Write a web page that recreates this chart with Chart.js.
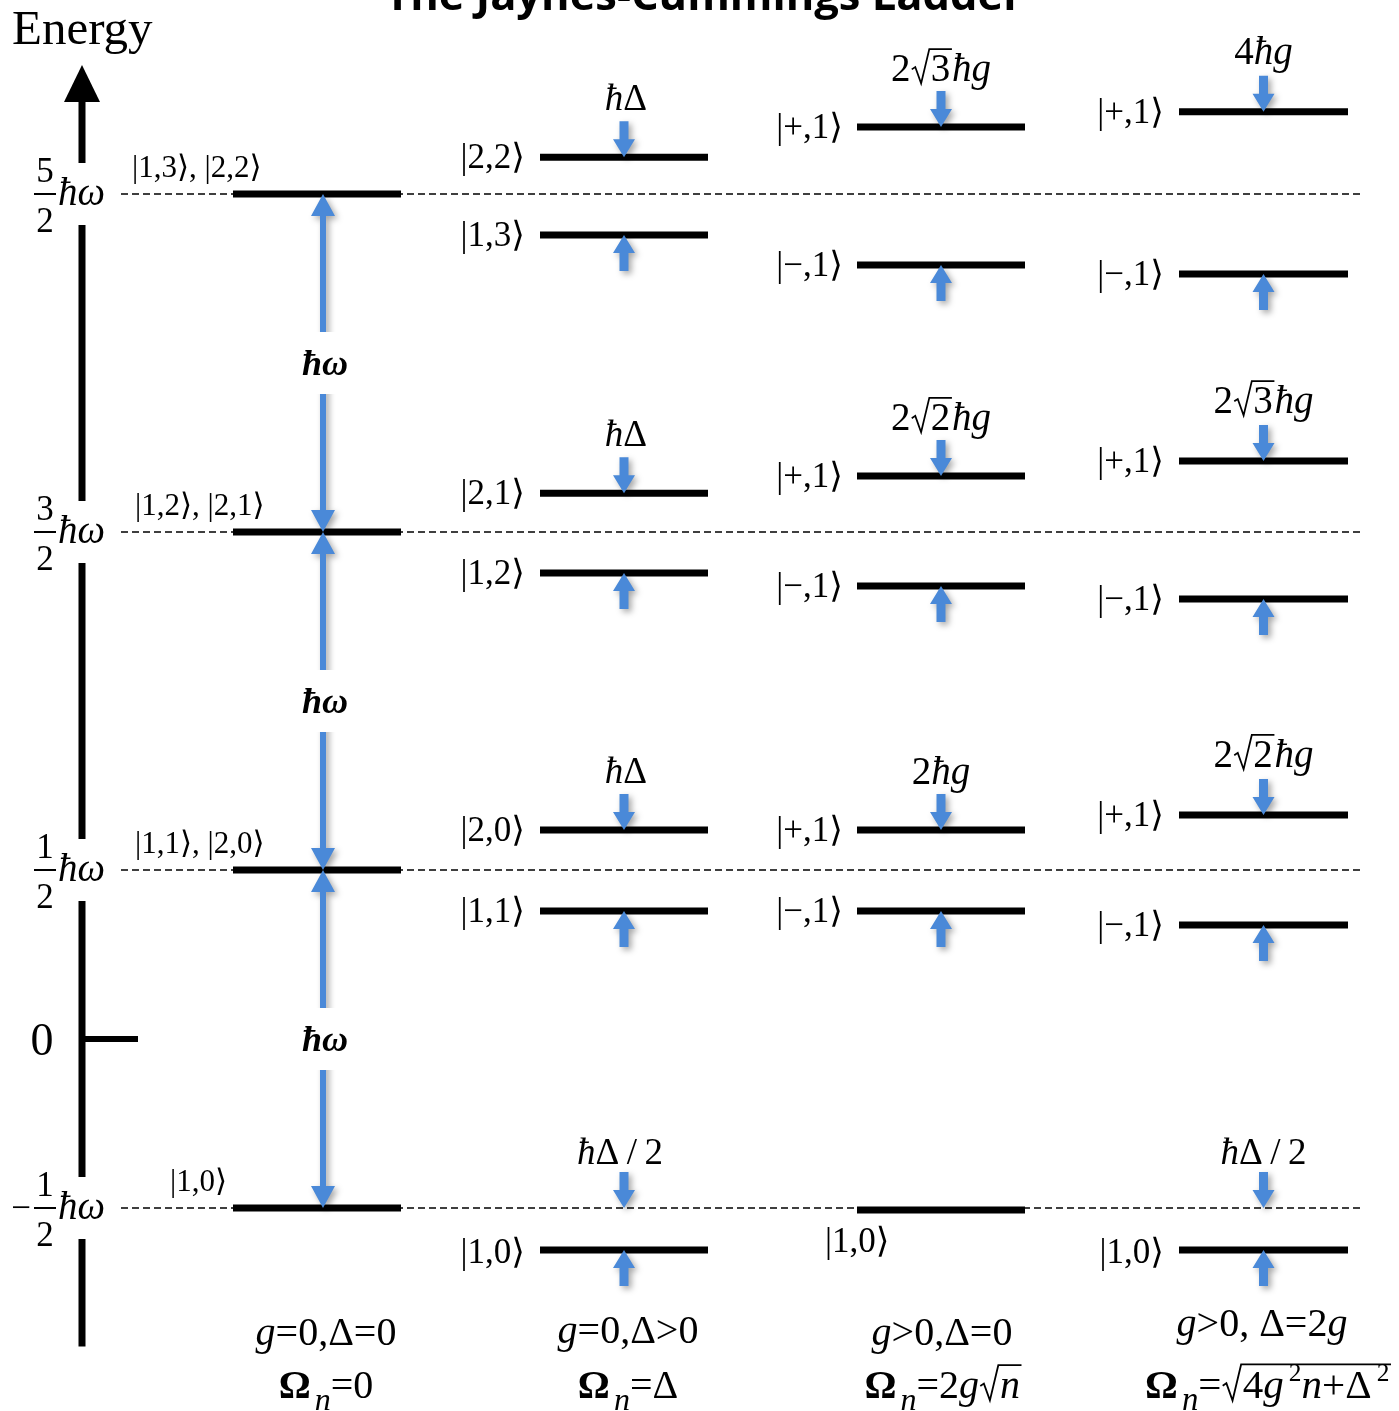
<!DOCTYPE html>
<html>
<head>
<meta charset="utf-8">
<script src="https://cdn.jsdelivr.net/npm/chart.js@4.4.1/dist/chart.umd.min.js"></script>
<style>
  html, body { margin: 0; padding: 0; background: #fff; }
  canvas { display: block; }
</style>
</head>
<body>
<canvas id="ladder" width="1399" height="1411"></canvas>
<script>
// Energias em unidades de ħω
const bareEnergies = [2.5, 1.5, 0.5, -0.5];
const tickNumerators = ['5', '3', '1', '1'];
const tickSigns = ['', '', '', '−'];
const bareStates = ['|1,3⟩, |2,2⟩', '|1,2⟩, |2,1⟩', '|1,1⟩, |2,0⟩', '|1,0⟩'];

// g = 0, Δ > 0
const detUpper = [2.609, 1.615, 0.618];
const detLower = [2.379, 1.379, 0.379];
const detGround = -0.624;
const detUpperStates = ['|2,2⟩', '|2,1⟩', '|2,0⟩'];
const detLowerStates = ['|1,3⟩', '|1,2⟩', '|1,1⟩'];

// g > 0, Δ = 0
const resUpper = [2.698, 1.666, 0.618];
const resLower = [2.290, 1.340, 0.379];
const resGround = -0.506;

// g > 0, Δ = 2g
const mixUpper = [2.743, 1.710, 0.663];
const mixLower = [2.263, 1.302, 0.337];
const mixGround = -0.624;

const plusState = '|+,1⟩';
const minusState = '|−,1⟩';
const groundState = '|1,0⟩';

// pedaços de texto "rico" (itálico, raiz, índices)
const HB = { t: 'ħ', i: true };
const G = { t: 'g', i: true };
const detSplit = [[HB, { t: 'Δ' }], [HB, { t: 'Δ' }], [HB, { t: 'Δ' }]];
const resSplit = [
  [{ t: '2' }, { rad: [{ t: '3' }] }, HB, G],
  [{ t: '2' }, { rad: [{ t: '2' }] }, HB, G],
  [{ t: '2' }, HB, G]
];
const mixSplit = [
  [{ t: '4' }, HB, G],
  [{ t: '2' }, { rad: [{ t: '3' }] }, HB, G],
  [{ t: '2' }, { rad: [{ t: '2' }] }, HB, G]
];
const halfDelta = [HB, { t: 'Δ' }, { t: '\u2009/\u2009' }, { t: '2' }];

const OM = [{ t: 'Ω', b: true }, { t: ' ', s: 0.4 }, { t: 'n', i: true, s: 0.8, dy: 0.3 }];
const conditionLabels = [
  [G, { t: '=0,Δ=0' }],
  [G, { t: '=0,Δ>0' }],
  [G, { t: '>0,Δ=0' }],
  [G, { t: '>0, Δ=2' }, G]
];
const rabiLabels = [
  [...OM, { t: '=0' }],
  [...OM, { t: '=Δ' }],
  [...OM, { t: '=2' }, G, { rad: [{ t: 'n', i: true }] }],
  [...OM, { t: '=' }, { rad: [{ t: '4' }, G, { t: '\u20092', s: 0.62, dy: -0.42 }, { t: 'n', i: true }, { t: '+Δ' }, { t: '\u20092', s: 0.62, dy: -0.42 }] }]
];

// Layout (pixels do eixo x e alturas do eixo vertical)
const colSpans = [[233, 401], [540, 708], [857, 1025], [1179, 1348]];
const refSpan = [121, 1360];
const axisX = 82;
const axisBottom = -0.91;
const axisTop = 2.882;
const bigArrowX = 323;
const pxPerUnit = 338;
const zeroPx = 1039;
const H_CANVAS = 1411;

const SERIF = '"Liberation Serif", "Times New Roman", "DejaVu Serif", serif';
const BLUE = '#4a89d8';

// monta segmentos horizontais a partir das energias
const segments = (span, energies) => {
  const pts = [];
  energies.forEach(e => {
    pts.push({ x: span[0], y: e }, { x: span[1], y: e }, { x: span[1], y: null });
  });
  return pts;
};

const levelPoints = [
  ...segments(colSpans[0], bareEnergies),
  ...segments(colSpans[1], [...detUpper, ...detLower, detGround]),
  ...segments(colSpans[2], [...resUpper, ...resLower, resGround]),
  ...segments(colSpans[3], [...mixUpper, ...mixLower, mixGround])
];

// ---- texto rico ----
const segFont = (s, size) =>
  (s.i ? 'italic ' : '') + (s.b ? 'bold ' : '') + (size * (s.s || 1)) + 'px ' + SERIF;

function measureSegs(ctx, segs, size) {
  let w = 0;
  segs.forEach(s => {
    if (s.rad) w += size * 0.52 + measureSegs(ctx, s.rad, size) + size * 0.04;
    else { ctx.font = segFont(s, size); w += ctx.measureText(s.t).width; }
  });
  return w;
}

function drawSegs(ctx, segs, x, y, size) {
  segs.forEach(s => {
    if (s.rad) {
      const inner = measureSegs(ctx, s.rad, size);
      const rw = size * 0.52;
      ctx.beginPath();
      ctx.moveTo(x + 0.03 * size, y - 0.3 * size);
      ctx.lineTo(x + 0.12 * size, y - 0.36 * size);
      ctx.lineTo(x + 0.27 * size, y + 0.06 * size);
      ctx.lineTo(x + 0.48 * size, y - 0.82 * size);
      ctx.lineTo(x + rw + inner + 0.04 * size, y - 0.82 * size);
      ctx.lineWidth = Math.max(1.5, size * 0.045);
      ctx.stroke();
      x = drawSegs(ctx, s.rad, x + rw, y, size) + 0.04 * size;
    } else {
      ctx.font = segFont(s, size);
      ctx.fillText(s.t, x, y + (s.dy || 0) * size);
      x += ctx.measureText(s.t).width;
    }
  });
  return x;
}

function rich(ctx, segs, x, y, size, align) {
  const w = measureSegs(ctx, segs, size);
  const x0 = align === 'center' ? x - w / 2 : align === 'right' ? x - w : x;
  ctx.textAlign = 'left';
  ctx.textBaseline = 'alphabetic';
  drawSegs(ctx, segs, x0, y, size);
}

function plain(ctx, text, x, y, size, align, style) {
  ctx.font = (style ? style + ' ' : '') + size + 'px ' + SERIF;
  ctx.textAlign = align;
  ctx.textBaseline = 'alphabetic';
  ctx.fillText(text, x, y);
}

// ---- setas azuis ----
function blockArrow(ctx, x, yTail, yTip, shaft, headW, headL) {
  const dir = yTip > yTail ? 1 : -1;
  const yBase = yTip - dir * headL;
  ctx.beginPath();
  ctx.moveTo(x - shaft / 2, yTail);
  ctx.lineTo(x - shaft / 2, yBase);
  ctx.lineTo(x - headW / 2, yBase);
  ctx.lineTo(x, yTip);
  ctx.lineTo(x + headW / 2, yBase);
  ctx.lineTo(x + shaft / 2, yBase);
  ctx.lineTo(x + shaft / 2, yTail);
  ctx.closePath();
  ctx.fill();
}

const ladderPlugin = {
  id: 'ladder',
  beforeDatasetsDraw(chart) {
    const { ctx, scales: { x, y } } = chart;
    const ax = x.getPixelForValue(axisX);
    const tip = y.getPixelForValue(axisTop);
    ctx.save();
    ctx.strokeStyle = '#000';
    ctx.fillStyle = '#000';
    ctx.lineWidth = 7;
    ctx.beginPath();
    ctx.moveTo(ax, y.getPixelForValue(axisBottom));
    ctx.lineTo(ax, tip + 34);
    ctx.stroke();
    ctx.beginPath();
    ctx.moveTo(ax, tip);
    ctx.lineTo(ax - 18, tip + 37);
    ctx.lineTo(ax + 18, tip + 37);
    ctx.closePath();
    ctx.fill();
    // traço do zero
    const y0 = y.getPixelForValue(0);
    ctx.lineWidth = 6;
    ctx.beginPath();
    ctx.moveTo(ax, y0);
    ctx.lineTo(ax + 56, y0);
    ctx.stroke();
    // buracos no eixo para os rótulos
    ctx.fillStyle = '#fff';
    bareEnergies.forEach(e => {
      const py = y.getPixelForValue(e);
      ctx.fillRect(ax - 8, py - 31, 16, 62);
    });
    ctx.restore();
  },
  afterDatasetsDraw(chart) {
    const { ctx, scales: { x, y } } = chart;
    const py = e => y.getPixelForValue(e);
    const cx = i => x.getPixelForValue((colSpans[i][0] + colSpans[i][1]) / 2);
    const left = i => x.getPixelForValue(colSpans[i][0]);

    ctx.save();
    ctx.fillStyle = BLUE;
    ctx.shadowColor = 'rgba(0,0,0,0.35)';
    ctx.shadowBlur = 6;
    ctx.shadowOffsetX = 3;
    ctx.shadowOffsetY = 3;

    // setas longas (ħω) na primeira coluna
    const bx = x.getPixelForValue(bigArrowX);
    for (let i = 0; i < bareEnergies.length - 1; i++) {
      const top = py(bareEnergies[i]);
      const bot = py(bareEnergies[i + 1]);
      const mid = (top + bot) / 2;
      blockArrow(ctx, bx, mid, top, 6, 24, 22);
      blockArrow(ctx, bx, mid, bot, 6, 24, 22);
    }

    // setas curtas nas outras colunas
    const pairs = [
      [1, detUpper, detLower],
      [2, resUpper, resLower],
      [3, mixUpper, mixLower]
    ];
    pairs.forEach(([c, up, lo]) => {
      up.forEach((e, k) => {
        blockArrow(ctx, cx(c), py(e) - 36, py(e), 9, 22, 18);
        blockArrow(ctx, cx(c), py(lo[k]) + 36, py(lo[k]), 9, 22, 18);
      });
    });
    [[1, detGround], [3, mixGround]].forEach(([c, g]) => {
      const ref = py(bareEnergies[3]);
      blockArrow(ctx, cx(c), ref - 36, ref, 9, 22, 18);
      blockArrow(ctx, cx(c), py(g) + 36, py(g), 9, 22, 18);
    });
    ctx.restore();

    ctx.save();
    // caixas brancas para os rótulos ħω
    ctx.fillStyle = '#fff';
    for (let i = 0; i < bareEnergies.length - 1; i++) {
      const mid = (py(bareEnergies[i]) + py(bareEnergies[i + 1])) / 2;
      ctx.fillRect(bx - 24, mid - 31, 48, 62);
    }
    ctx.fillStyle = '#000';
    ctx.strokeStyle = '#000';
    for (let i = 0; i < bareEnergies.length - 1; i++) {
      const mid = (py(bareEnergies[i]) + py(bareEnergies[i + 1])) / 2;
      plain(ctx, 'ħω', bx + 2, mid + 12, 36, 'center', 'italic bold');
    }

    // rótulos do eixo (frações de ħω)
    bareEnergies.forEach((e, i) => {
      const p = py(e);
      plain(ctx, tickNumerators[i], 45, p - 12, 35, 'center');
      plain(ctx, '2', 45, p + 38, 35, 'center');
      ctx.fillRect(34, p - 1, 22, 2);
      if (tickSigns[i]) plain(ctx, tickSigns[i], 21, p + 11, 35, 'center');
      plain(ctx, 'ħω', 58, p + 11, 39, 'left', 'italic');
    });
    plain(ctx, '0', 42, py(0) + 16, 46, 'center');
    plain(ctx, 'Energy', 12, 44, 49, 'left');

    // estados da coluna 1
    const stateX = [132, 135, 135, 170];
    bareStates.forEach((s, i) => {
      plain(ctx, s, stateX[i], py(bareEnergies[i]) - 17, 31, 'left');
    });

    // coluna 2
    detUpper.forEach((e, k) => {
      plain(ctx, detUpperStates[k], left(1) - 15, py(e) + 11, 35, 'right');
      plain(ctx, detLowerStates[k], left(1) - 15, py(detLower[k]) + 11, 35, 'right');
      rich(ctx, detSplit[k], cx(1) + 2, py(e) - 47, 37, 'center');
    });
    plain(ctx, groundState, left(1) - 15, py(detGround) + 13, 35, 'right');
    rich(ctx, halfDelta, cx(1) - 4, py(bareEnergies[3]) - 44, 37, 'center');

    // coluna 3
    resUpper.forEach((e, k) => {
      plain(ctx, plusState, left(2) - 14, py(e) + 11, 35, 'right');
      plain(ctx, minusState, left(2) - 14, py(resLower[k]) + 11, 35, 'right');
      rich(ctx, resSplit[k], cx(2), py(e) - 46, 39, 'center');
    });
    plain(ctx, groundState, left(2) - 32, py(resGround) + 42, 35, 'left');

    // coluna 4
    mixUpper.forEach((e, k) => {
      plain(ctx, plusState, left(3) - 15, py(e) + 11, 35, 'right');
      plain(ctx, minusState, left(3) - 15, py(mixLower[k]) + 11, 35, 'right');
      rich(ctx, mixSplit[k], cx(3), py(e) - 48, 39, 'center');
    });
    plain(ctx, groundState, left(3) - 15, py(mixGround) + 13, 35, 'right');
    rich(ctx, halfDelta, cx(3), py(bareEnergies[3]) - 44, 37, 'center');

    // condições e frequências de Rabi
    const condY = [1345, 1343, 1345, 1336];
    const condX = [326, 628, 942, 1262];
    const rabiX = [326, 628, 943, 1268];
    const rabiSize = [40, 40, 40, 41];
    conditionLabels.forEach((segs, i) => rich(ctx, segs, condX[i], condY[i], 40, 'center'));
    rabiLabels.forEach((segs, i) => rich(ctx, segs, rabiX[i], 1398, rabiSize[i], 'center'));

    // título (cortado no topo, como no original)
    ctx.font = 'bold 40px "Open Sans", "DejaVu Sans", sans-serif';
    const tw = ctx.measureText('The Jaynes-Cummings Ladder').width;
    const fs = 40 * 638 / tw;
    ctx.font = 'bold ' + fs + 'px "Open Sans", "DejaVu Sans", sans-serif';
    ctx.textAlign = 'center';
    ctx.fillText('The Jaynes-Cummings Ladder', 704, 10);
    ctx.restore();
  }
};

const refPoints = segments(refSpan, bareEnergies);

new Chart(document.getElementById('ladder'), {
  type: 'line',
  data: {
    datasets: [
      {
        label: 'níveis',
        data: levelPoints,
        borderColor: '#000',
        borderWidth: 7,
        borderCapStyle: 'butt',
        pointRadius: 0,
        spanGaps: false,
        order: 1
      },
      {
        label: 'referência',
        data: refPoints,
        borderColor: '#000',
        borderWidth: 1.6,
        borderDash: [7, 4],
        pointRadius: 0,
        spanGaps: false,
        order: 2
      }
    ]
  },
  options: {
    responsive: false,
    animation: false,
    devicePixelRatio: 1,
    layout: { padding: 0, autoPadding: false },
    plugins: { legend: { display: false }, tooltip: { enabled: false }, title: { display: false } },
    scales: {
      x: { type: 'linear', display: false, min: 0, max: 1399 },
      y: {
        type: 'linear', display: false,
        min: (zeroPx - H_CANVAS) / pxPerUnit,
        max: zeroPx / pxPerUnit
      }
    }
  },
  plugins: [ladderPlugin]
});
</script>
</body>
</html>
